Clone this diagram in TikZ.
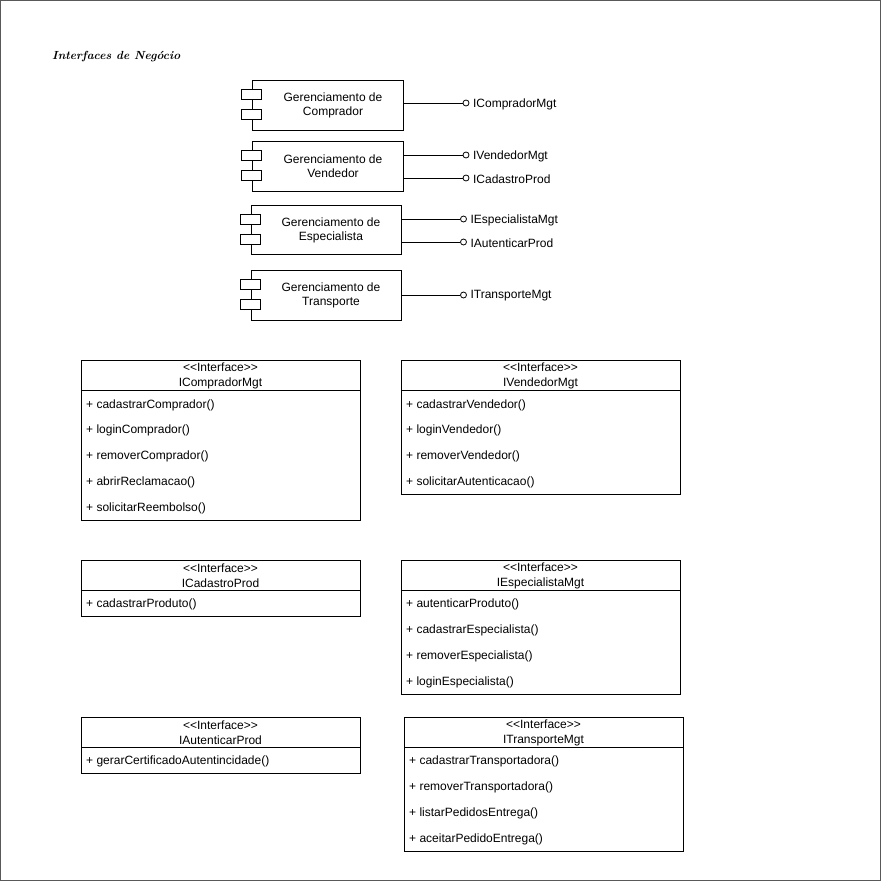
\documentclass[tikz,border=0pt]{standalone}
\usepackage{fontspec}
\setmainfont{Liberation Sans}
\newfontfamily\titlefont{Latin Modern Roman}
\usepackage{graphicx}
\newcommand{\ltlt}{\textless\kern0pt\textless}
\newcommand{\gtgt}{\textgreater\kern0pt\textgreater}
\begin{document}
\begin{tikzpicture}[x=1pt,y=-1pt,
  every node/.style={font=\fontsize{12}{14.4}\selectfont},
  compbox/.style={draw, line width=1pt, minimum width=151, minimum height=50, inner sep=0, fill=white},
  comptext/.style={align=center, inner sep=0, font=\fontsize{12}{14}\selectfont},
  tab/.style={draw, line width=1pt, fill=white},
  lolly/.style={draw, line width=0.8pt, circle, minimum size=6, inner sep=0, fill=white},
  lollylabel/.style={anchor=west, inner sep=0},
  conn/.style={line width=1pt},
  ihead/.style={draw, line width=1pt, outer sep=0, minimum width=279, minimum height=30, inner sep=0, anchor=north, align=center, font=\fontsize{12}{15}\selectfont},
  ibody/.style={draw, line width=1pt, outer sep=0, minimum width=279, inner sep=0, anchor=north},
  item/.style={anchor=west, inner sep=0}
]
\useasboundingbox (0,0) rectangle (881,881);
\draw[line width=1.2pt, black!65] (0.6,0.6) rectangle (880.4,880.4);

% title
\node[anchor=west, inner sep=0] (title) at (52,57)
  {\resizebox{128pt}{!}{\titlefont\bfseries\itshape Interfaces de Negócio}};

% components
\node[compbox] (c1) at (327.5,105) {};
\node[compbox] (c2) at (327.5,166) {};
\node[compbox, minimum width=150, minimum height=49] (c3) at (326,229.5) {};
\node[compbox, minimum width=150] (c4) at (326,295) {};
\foreach \c in {c1,c2,c3,c4}{
  \draw[tab] ([shift={(-10,10)}]\c.north west) rectangle ++(20,10);
  \draw[tab] ([shift={(-10,30)}]\c.north west) rectangle ++(20,10);
}
\node[comptext] (t1) at ([shift={(5.5,0.5)}]c1.center) {Gerenciamento de\\Comprador};
\node[comptext] (t2) at ([shift={(5.5,0.5)}]c2.center) {Gerenciamento de\\Vendedor};
\node[comptext] (t3) at ([shift={(5,0.5)}]c3.center) {Gerenciamento de\\Especialista};
\node[comptext] (t4) at ([shift={(5,0.5)}]c4.center) {Gerenciamento de\\Transporte};

% lollipops
\node[lolly] (l1) at (466,103) {};
\node[lolly] (l2) at (466,155) {};
\node[lolly] (l3) at (466,178) {};
\node[lolly] (l4) at (463.5,219) {};
\node[lolly] (l5) at (463.5,242) {};
\node[lolly] (l6) at (463.5,295) {};
\draw[conn] (c1.east |- l1) -- (l1.west);
\draw[conn] (c2.east |- l2) -- (l2.west);
\draw[conn] (c2.east |- l3) -- (l3.west);
\draw[conn] (c3.east |- l4) -- (l4.west);
\draw[conn] (c3.east |- l5) -- (l5.west);
\draw[conn] (c4.east |- l6) -- (l6.west);
\node[lollylabel] (n1) at ([shift={(3.5,1)}]l1.east) {ICompradorMgt};
\node[lollylabel] (n2) at ([shift={(3.5,1)}]l2.east) {IVendedorMgt};
\node[lollylabel] (n3) at ([shift={(3.5,1)}]l3.east) {ICadastroProd};
\node[lollylabel] (n4) at ([shift={(3.5,1)}]l4.east) {IEspecialistaMgt};
\node[lollylabel] (n5) at ([shift={(3.5,1)}]l5.east) {IAutenticarProd};
\node[lollylabel] (n6) at ([shift={(3.5,1)}]l6.east) {ITransporteMgt};

% interface A
\node[ihead] (ha) at (220.5,360.5) {\ltlt Interface\gtgt\\ICompradorMgt};
\node[ibody, minimum height=130] (ba) at (ha.south) {};
\node[item] (a1) at ([shift={(5,14.5)}]ba.north west) {+ cadastrarComprador()};
\node[item] (a2) at ([shift={(5,39.5)}]ba.north west) {+ loginComprador()};
\node[item] (a3) at ([shift={(5,65.5)}]ba.north west) {+ removerComprador()};
\node[item] (a4) at ([shift={(5,91.5)}]ba.north west) {+ abrirReclamacao()};
\node[item] (a5) at ([shift={(5,117.5)}]ba.north west) {+ solicitarReembolso()};

% interface B
\node[ihead] (hb) at (540.5,360.5) {\ltlt Interface\gtgt\\IVendedorMgt};
\node[ibody, minimum height=104] (bb) at (hb.south) {};
\node[item] (b1) at ([shift={(5,14.5)}]bb.north west) {+ cadastrarVendedor()};
\node[item] (b2) at ([shift={(5,39.5)}]bb.north west) {+ loginVendedor()};
\node[item] (b3) at ([shift={(5,65.5)}]bb.north west) {+ removerVendedor()};
\node[item] (b4) at ([shift={(5,91.5)}]bb.north west) {+ solicitarAutenticacao()};

% interface C
\node[ihead] (hc) at (220.5,560.5) {\ltlt Interface\gtgt\\ICadastroProd};
\node[ibody, minimum height=26] (bc) at (hc.south) {};
\node[item] (c1i) at ([shift={(5,14)}]bc.north west) {+ cadastrarProduto()};

% interface D
\node[ihead] (hd) at (540.5,560.5) {\ltlt Interface\gtgt\\IEspecialistaMgt};
\node[ibody, minimum height=104] (bd) at (hd.south) {};
\node[item] (d1) at ([shift={(5,14)}]bd.north west) {+ autenticarProduto()};
\node[item] (d2) at ([shift={(5,40)}]bd.north west) {+ cadastrarEspecialista()};
\node[item] (d3) at ([shift={(5,66)}]bd.north west) {+ removerEspecialista()};
\node[item] (d4) at ([shift={(5,92)}]bd.north west) {+ loginEspecialista()};

% interface E
\node[ihead] (he) at (220.5,717.5) {\ltlt Interface\gtgt\\IAutenticarProd};
\node[ibody, minimum height=26] (be) at (he.south) {};
\node[item] (e1) at ([shift={(5,14)}]be.north west) {+ gerarCertificadoAutentincidade()};

% interface F
\node[ihead] (hf) at (543.5,717.5) {\ltlt Interface\gtgt\\ITransporteMgt};
\node[ibody, minimum height=104] (bf) at (hf.south) {};
\node[item] (f1) at ([shift={(5,14)}]bf.north west) {+ cadastrarTransportadora()};
\node[item] (f2) at ([shift={(5,40)}]bf.north west) {+ removerTransportadora()};
\node[item] (f3) at ([shift={(5,66)}]bf.north west) {+ listarPedidosEntrega()};
\node[item] (f4) at ([shift={(5,92)}]bf.north west) {+ aceitarPedidoEntrega()};
\end{tikzpicture}
\end{document}
